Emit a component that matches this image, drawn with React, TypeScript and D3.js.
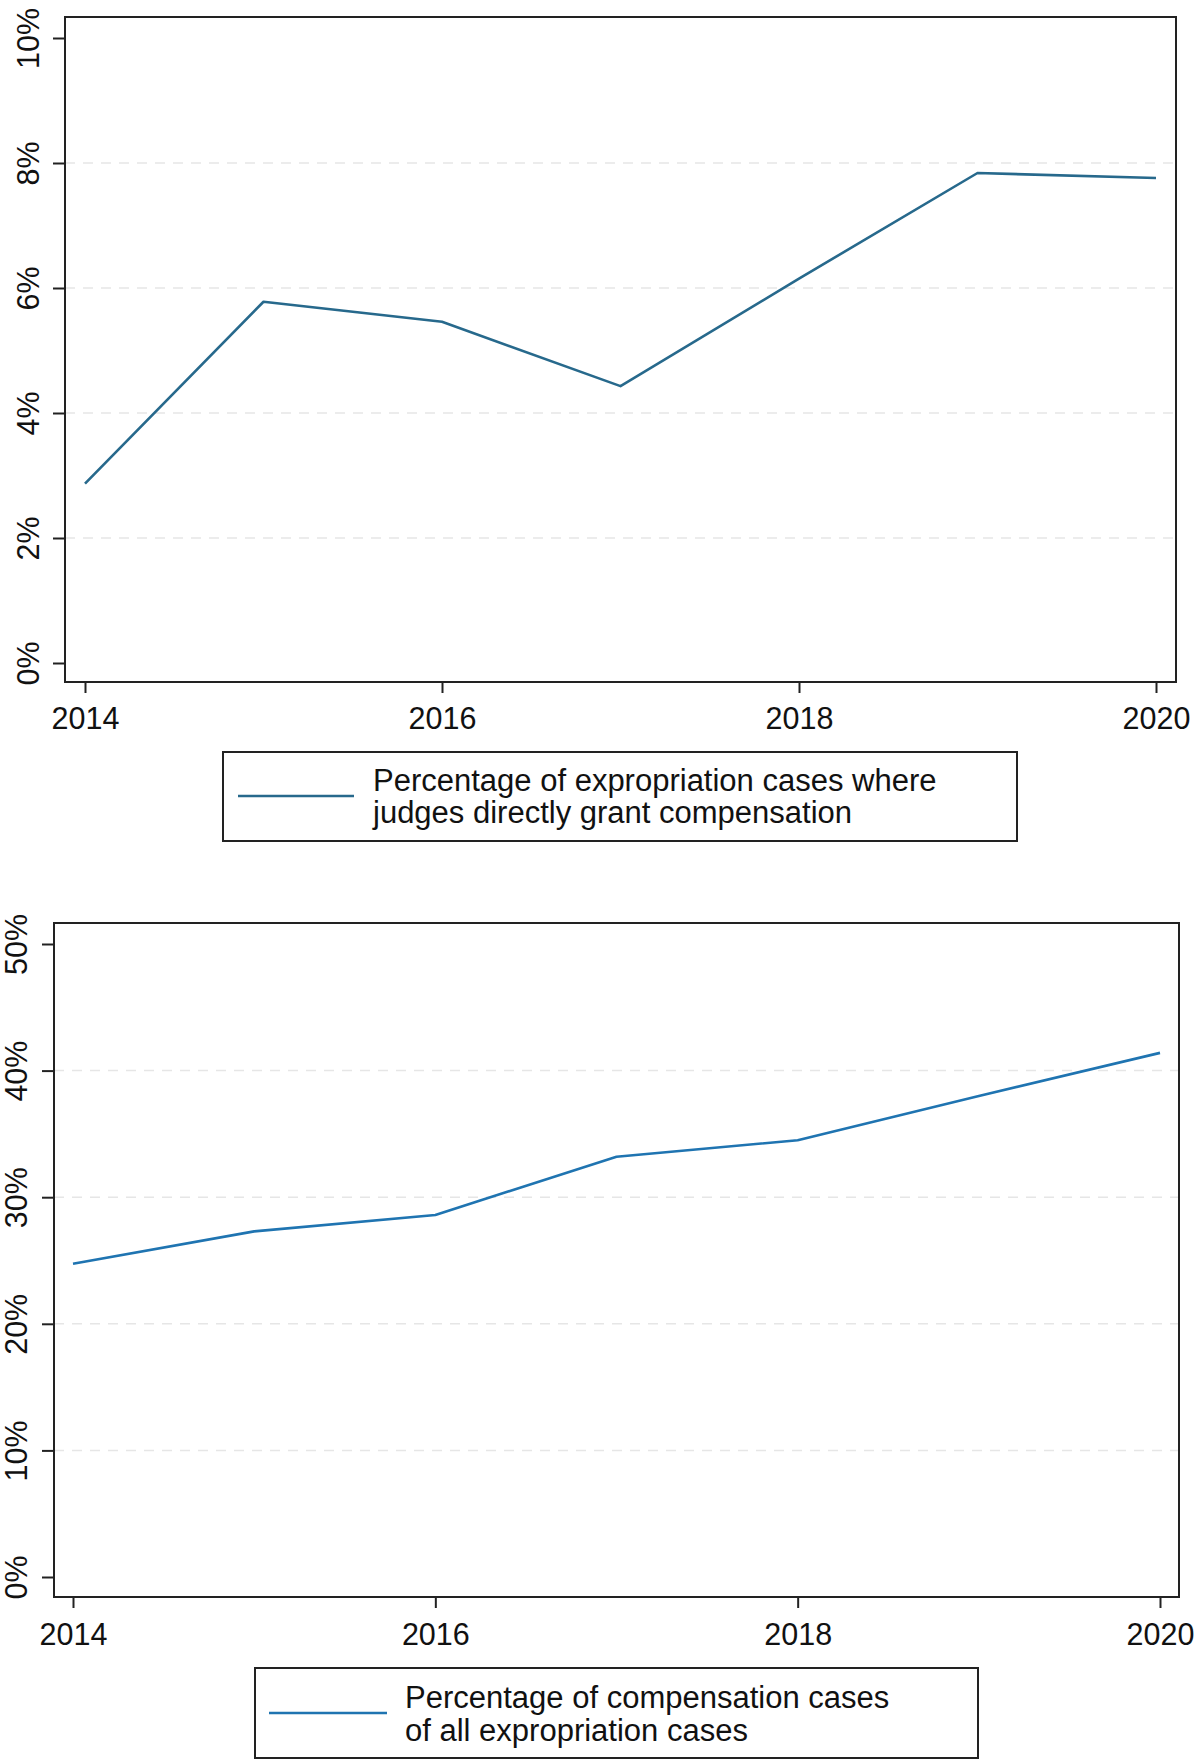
import { useEffect, useRef } from "react";
import * as d3 from "d3";

const years = [2014, 2015, 2016, 2017, 2018, 2019, 2020];
const yearTicks = [2014, 2016, 2018, 2020];

// percentage of expropriation cases where judges directly grant compensation
const directGrant = [2.87, 5.78, 5.46, 4.43, 6.15, 7.84, 7.76];
const directTicks = [0, 2, 4, 6, 8, 10];
const directLegend = ["Percentage of expropriation cases where", "judges directly grant compensation"];

// percentage of compensation cases of all expropriation cases
const compensation = [24.75, 27.3, 28.6, 33.2, 34.5, 38.0, 41.4];
const compTicks = [0, 10, 20, 30, 40, 50];
const compLegend = ["Percentage of compensation cases", "of all expropriation cases"];

const FONT = "'Liberation Sans', Arial, sans-serif";

interface PanelSpec {
  values: number[];
  yTicks: number[];
  legend: string[];
  color: string;
  frame: { x0: number; x1: number; y0: number; y1: number };
  xRange: [number, number];
  yRange: [number, number];
  yLabelX: number;
  xLabelY: number;
  legendBox: { x0: number; x1: number; y0: number; y1: number };
  legendLine: { x0: number; x1: number; y: number };
  legendTextX: number;
  legendBaselines: number[];
}

const panels: PanelSpec[] = [
  {
    values: directGrant,
    yTicks: directTicks,
    legend: directLegend,
    color: "#27698c",
    frame: { x0: 65, x1: 1176, y0: 17, y1: 682 },
    xRange: [85, 1156],
    yRange: [663, 38],
    yLabelX: 39,
    xLabelY: 729,
    legendBox: { x0: 223, x1: 1017, y0: 752, y1: 841 },
    legendLine: { x0: 238, x1: 354, y: 796 },
    legendTextX: 373,
    legendBaselines: [791, 823],
  },
  {
    values: compensation,
    yTicks: compTicks,
    legend: compLegend,
    color: "#1f74b1",
    frame: { x0: 54, x1: 1179, y0: 923, y1: 1597 },
    xRange: [73, 1160],
    yRange: [1577, 944],
    yLabelX: 27,
    xLabelY: 1645,
    legendBox: { x0: 255, x1: 978, y0: 1668, y1: 1758 },
    legendLine: { x0: 269, x1: 387, y: 1713 },
    legendTextX: 405,
    legendBaselines: [1708, 1741],
  },
];

function App() {
  const svgRef = useRef<SVGSVGElement>(null);

  useEffect(() => {
    if (!svgRef.current) return;
    const svg = d3.select(svgRef.current);
    svg.selectAll("*").remove();

    panels.forEach((p) => {
      const x = d3.scaleLinear().domain([2014, 2020]).range(p.xRange);
      const y = d3.scaleLinear().domain([p.yTicks[0], p.yTicks[p.yTicks.length - 1]]).range(p.yRange);
      const g = svg.append("g");

      // dashed grid, skipping the outer ticks
      g.selectAll(".grid")
        .data(p.yTicks.slice(1, -1))
        .enter()
        .append("line")
        .attr("x1", p.frame.x0)
        .attr("x2", p.frame.x1)
        .attr("y1", (d) => y(d))
        .attr("y2", (d) => y(d))
        .attr("stroke", "#e6e6e6")
        .attr("stroke-width", 1.5)
        .attr("stroke-dasharray", "10,8");

      // y axis
      const yAxis = d3
        .axisLeft(y)
        .tickValues(p.yTicks)
        .tickSize(12)
        .tickFormat((d) => `${d}%`);
      const ya = g.append("g").attr("transform", `translate(${p.frame.x0},0)`).call(yAxis);
      ya.select(".domain").remove();
      ya.selectAll(".tick line").attr("stroke", "#222").attr("stroke-width", 2);
      ya.selectAll(".tick text")
        .attr("x", null)
        .attr("dy", null)
        .attr("transform", function () {
          return `translate(${p.yLabelX - p.frame.x0},0) rotate(-90)`;
        })
        .attr("text-anchor", "middle")
        .style("font-family", FONT)
        .style("font-size", "30.5px")
        .style("fill", "#111");

      // x axis
      const xAxis = d3
        .axisBottom(x)
        .tickValues(yearTicks)
        .tickSize(11)
        .tickFormat(d3.format("d"));
      const xa = g.append("g").attr("transform", `translate(0,${p.frame.y1})`).call(xAxis);
      xa.select(".domain").remove();
      xa.selectAll(".tick line").attr("stroke", "#222").attr("stroke-width", 2);
      xa.selectAll(".tick text")
        .attr("y", p.xLabelY - p.frame.y1)
        .attr("dy", null)
        .style("font-family", FONT)
        .style("font-size", "30.5px")
        .style("fill", "#111");

      // frame
      g.append("rect")
        .attr("x", p.frame.x0)
        .attr("y", p.frame.y0)
        .attr("width", p.frame.x1 - p.frame.x0)
        .attr("height", p.frame.y1 - p.frame.y0)
        .attr("fill", "none")
        .attr("stroke", "#222")
        .attr("stroke-width", 2);

      // series line
      const line = d3
        .line<number>()
        .x((_, i) => x(years[i]))
        .y((d) => y(d));
      g.append("path")
        .attr("d", line(p.values))
        .attr("fill", "none")
        .attr("stroke", p.color)
        .attr("stroke-width", 2.6)
        .attr("stroke-linejoin", "round");

      // legend
      const lb = p.legendBox;
      g.append("rect")
        .attr("x", lb.x0)
        .attr("y", lb.y0)
        .attr("width", lb.x1 - lb.x0)
        .attr("height", lb.y1 - lb.y0)
        .attr("fill", "white")
        .attr("stroke", "#222")
        .attr("stroke-width", 2);
      g.append("line")
        .attr("x1", p.legendLine.x0)
        .attr("x2", p.legendLine.x1)
        .attr("y1", p.legendLine.y)
        .attr("y2", p.legendLine.y)
        .attr("stroke", p.color)
        .attr("stroke-width", 2.6);
      g.selectAll(".legend-text")
        .data(p.legend)
        .enter()
        .append("text")
        .attr("x", p.legendTextX)
        .attr("y", (_, i) => p.legendBaselines[i])
        .style("font-family", FONT)
        .style("font-size", "31px")
        .style("fill", "#111")
        .text((d) => d);
    });
  }, []);

  return (
    <div style={{ position: "absolute", left: 0, top: 0, background: "white" }}>
      <svg ref={svgRef} width={1199} height={1764} style={{ display: "block" }}></svg>
    </div>
  );
}

export default App;
